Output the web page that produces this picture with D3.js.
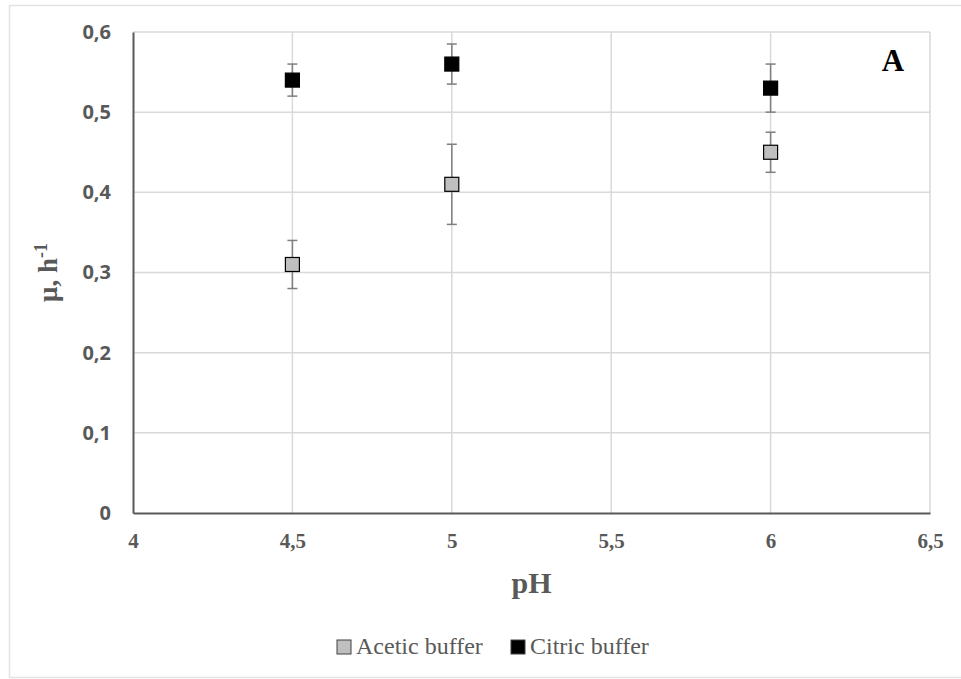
<!DOCTYPE html>
<html>
<head>
<meta charset="utf-8">
<script src="https://cdn.jsdelivr.net/npm/d3@7"></script>
<style>
  body { margin: 0; background: #fff; }
  svg { display: block; }
</style>
</head>
<body>
<div id="chart"></div>
<script>
// data
const phValues = [4.5, 5, 6];
const aceticMean = [0.31, 0.41, 0.45];
const aceticLow = [0.28, 0.36, 0.425];
const aceticHigh = [0.34, 0.46, 0.475];
const citricMean = [0.54, 0.56, 0.53];
const citricLow = [0.52, 0.535, 0.50];
const citricHigh = [0.56, 0.585, 0.56];
const xTicks = [4, 4.5, 5, 5.5, 6, 6.5];
const yTicks = [0, 0.1, 0.2, 0.3, 0.4, 0.5, 0.6];
const seriesNames = ["Acetic buffer", "Citric buffer"];

// page setup
const width = 961;
const height = 679;
const plot = { left: 133, right: 930, top: 32, bottom: 513 };

const svg = d3.select("#chart")
    .append("svg")
    .attr("width", width)
    .attr("height", height);

// light frame round the whole chart
svg.append("rect")
    .attr("x", 9.5)
    .attr("y", 5.5)
    .attr("width", 960)
    .attr("height", 672)
    .attr("fill", "#fff")
    .attr("stroke", "#e3e3e3")
    .attr("stroke-width", 1.5);

const x = d3.scaleLinear().domain([4, 6.5]).range([plot.left, plot.right]);
const y = d3.scaleLinear().domain([0, 0.6]).range([plot.bottom, plot.top]);
const fmt = d => String(d).replace(".", ",");

// gridlines
svg.append("g")
    .selectAll("line")
    .data(yTicks.slice(1))
    .enter()
    .append("line")
    .attr("x1", plot.left)
    .attr("x2", plot.right)
    .attr("y1", d => y(d))
    .attr("y2", d => y(d))
    .attr("stroke", "#d9d9d9")
    .attr("stroke-width", 1.5);

svg.append("g")
    .selectAll("line")
    .data(xTicks.slice(1))
    .enter()
    .append("line")
    .attr("x1", d => x(d))
    .attr("x2", d => x(d))
    .attr("y1", plot.top)
    .attr("y2", plot.bottom)
    .attr("stroke", "#d9d9d9")
    .attr("stroke-width", 1.5);

// y axis
const yAxis = svg.append("g")
    .attr("transform", `translate(${plot.left},0)`)
    .call(d3.axisLeft(y).tickValues(yTicks).tickFormat(fmt).tickSize(0).tickPadding(22));
yAxis.select(".domain").attr("stroke", "#595959").attr("stroke-width", 2);
yAxis.selectAll("text")
    .attr("font-family", "'Open Sans', sans-serif")
    .attr("font-weight", "bold")
    .attr("font-size", "20px")
    .attr("fill", "#595959");

// x axis
const xAxis = svg.append("g")
    .attr("transform", `translate(0,${plot.bottom})`)
    .call(d3.axisBottom(x).tickValues(xTicks).tickFormat(fmt).tickSize(0).tickPadding(20));
xAxis.select(".domain").attr("stroke", "#595959").attr("stroke-width", 2);
xAxis.selectAll("text")
    .attr("font-family", "'Liberation Serif', serif")
    .attr("font-weight", "bold")
    .attr("font-size", "21px")
    .attr("fill", "#595959");

// axis titles
svg.append("text")
    .attr("x", x(5.25))
    .attr("y", 593)
    .attr("text-anchor", "middle")
    .attr("font-family", "'Liberation Serif', serif")
    .attr("font-weight", "bold")
    .attr("font-size", "30px")
    .attr("fill", "#595959")
    .text("pH");

const yLabel = svg.append("text")
    .attr("transform", `translate(57,${y(0.3)}) rotate(-90)`)
    .attr("text-anchor", "middle")
    .attr("font-family", "'Liberation Serif', serif")
    .attr("font-weight", "bold")
    .attr("font-size", "27px")
    .attr("fill", "#595959");
yLabel.append("tspan").text("μ, h");
yLabel.append("tspan").attr("dy", -10).attr("font-size", "18px").text("-1");

// panel letter
svg.append("text")
    .attr("x", 893)
    .attr("y", 71)
    .attr("text-anchor", "middle")
    .attr("font-family", "'Liberation Serif', serif")
    .attr("font-weight", "bold")
    .attr("font-size", "31px")
    .attr("fill", "#000")
    .text("A");

// series
const series = [
    { name: seriesNames[0], mean: aceticMean, low: aceticLow, high: aceticHigh, fill: "#bfbfbf" },
    { name: seriesNames[1], mean: citricMean, low: citricLow, high: citricHigh, fill: "#000" }
];

series.forEach(s => {
    const pts = phValues.map((p, i) => ({ p: p, m: s.mean[i], lo: s.low[i], hi: s.high[i] }));
    const g = svg.append("g");

    // error bars
    g.selectAll(".err")
        .data(pts)
        .enter()
        .append("line")
        .attr("x1", d => x(d.p))
        .attr("x2", d => x(d.p))
        .attr("y1", d => y(d.lo))
        .attr("y2", d => y(d.hi))
        .attr("stroke", "#7f7f7f")
        .attr("stroke-width", 1.5);

    ["lo", "hi"].forEach(k => {
        g.selectAll(".cap-" + k)
            .data(pts)
            .enter()
            .append("line")
            .attr("x1", d => x(d.p) - 5)
            .attr("x2", d => x(d.p) + 5)
            .attr("y1", d => y(d[k]))
            .attr("y2", d => y(d[k]))
            .attr("stroke", "#7f7f7f")
            .attr("stroke-width", 1.5);
    });

    // markers
    g.selectAll("rect")
        .data(pts)
        .enter()
        .append("rect")
        .attr("x", d => x(d.p) - 7)
        .attr("y", d => y(d.m) - 7)
        .attr("width", 14)
        .attr("height", 14)
        .attr("fill", s.fill)
        .attr("stroke", "#000")
        .attr("stroke-width", 1.2);
});

// legend
const legendX = [337, 511];
series.forEach((s, i) => {
    svg.append("rect")
        .attr("x", legendX[i])
        .attr("y", 640)
        .attr("width", 14)
        .attr("height", 14)
        .attr("fill", s.fill)
        .attr("stroke", "#404040")
        .attr("stroke-width", 1);
    svg.append("text")
        .attr("x", legendX[i] + 19)
        .attr("y", 654)
        .attr("font-family", "'Liberation Serif', serif")
        .attr("font-size", "24px")
        .attr("fill", "#595959")
        .text(s.name);
});
</script>
</body>
</html>
